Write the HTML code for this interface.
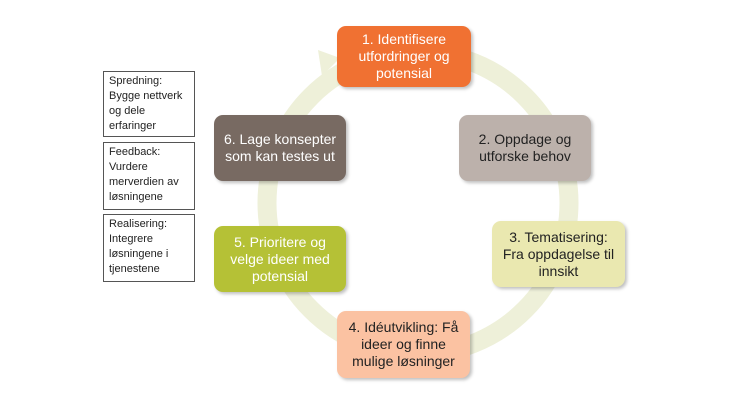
<!DOCTYPE html>
<html><head><meta charset="utf-8"><style>
body{margin:0;width:730px;height:410px;background:#fff;position:relative;overflow:hidden;font-family:"Liberation Sans",sans-serif}
.b{position:absolute;border-radius:9px;display:flex;align-items:center;justify-content:center;text-align:center;font-size:14px;line-height:17px;box-shadow:2px 2px 3px rgba(0,0,0,.25)}
.s{position:absolute;left:103px;width:80px;border:1px solid #555;padding:2px 5px;font-size:11px;line-height:15px;color:#222;background:#fff}
</style></head><body>
<svg width="730" height="410" style="position:absolute;left:0;top:0">
<circle cx="418" cy="203" r="151" fill="none" stroke="#eef0d9" stroke-width="19"/>
<polygon points="318,50 340,58 322,76" fill="#eef0d9"/>
</svg>
<div class="b" style="left:337px;top:26px;width:134px;height:61px;background:#f07132;color:#fff">1. Identifisere<br>utfordringer og<br>potensial</div>
<div class="b" style="left:459px;top:115px;width:132px;height:66px;background:#bcb1ab;color:#222">2. Oppdage og<br>utforske behov</div>
<div class="b" style="left:492px;top:221px;width:133px;height:66px;background:#eae8b0;color:#222">3. Tematisering:<br>Fra oppdagelse til<br>innsikt</div>
<div class="b" style="left:337px;top:311px;width:133px;height:67px;background:#fbc2a2;color:#222">4. Idéutvikling: Få<br>ideer og finne<br>mulige løsninger</div>
<div class="b" style="left:214px;top:226px;width:132px;height:66px;background:#b5c136;color:#fff">5. Prioritere og<br>velge ideer med<br>potensial</div>
<div class="b" style="left:214px;top:115px;width:132px;height:66px;background:#786a62;color:#fff">6. Lage konsepter<br>som kan testes ut</div>
<div class="s" style="top:71px;height:60px">Spredning:<br>Bygge nettverk<br>og dele<br>erfaringer</div>
<div class="s" style="top:142px;height:62px">Feedback:<br>Vurdere<br>merverdien av<br>løsningene</div>
<div class="s" style="top:214px;height:62px">Realisering:<br>Integrere<br>løsningene i<br>tjenestene</div>
</body></html>
